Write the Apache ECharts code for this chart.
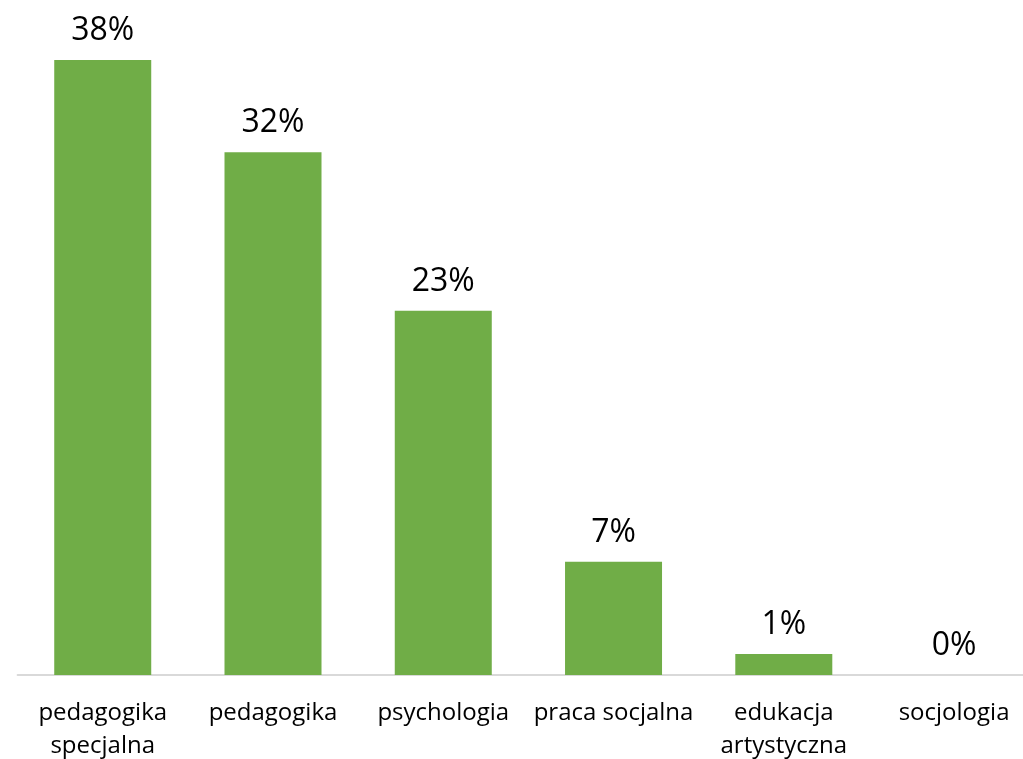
<!DOCTYPE html>
<html>
<head>
<meta charset="utf-8">
<script src="https://cdn.jsdelivr.net/npm/echarts@6/dist/echarts.min.js"></script>
<style>html,body{margin:0;padding:0;background:#fff;}#c{width:1023px;height:759px;}</style>
</head>
<body>
<div id="c"></div>
<script>
var categories = ['pedagogika\nspecjalna', 'pedagogika', 'psychologia', 'praca socjalna', 'edukacja\nartystyczna', 'socjologia'];
var values = [38.0, 32.3, 22.5, 7.0, 1.3, 0];
var valueLabels = ['38%', '32%', '23%', '7%', '1%', '0%'];

var chart = echarts.init(document.getElementById('c'), null, {renderer: 'canvas'});
chart.setOption({
  animation: false,
  backgroundColor: '#ffffff',
  grid: {left: 17.6, width: 1021.6, top: 60, bottom: 84, containLabel: false, outerBoundsMode: 'none'},
  xAxis: {
    type: 'category',
    data: categories,
    axisLine: {show: true, lineStyle: {color: '#D9D9D9', width: 2}},
    axisTick: {show: false},
    axisLabel: {
      interval: 0,
      color: '#000000',
      fontFamily: 'Open Sans',
      fontSize: 24,
      lineHeight: 33,
      margin: 22
    }
  },
  yAxis: {
    type: 'value',
    min: 0,
    max: 'dataMax',
    show: false,
    splitLine: {show: false}
  },
  series: [{
    type: 'bar',
    data: values,
    barWidth: 97,
    itemStyle: {color: '#70AD47'},
    label: {
      show: true,
      position: 'top',
      distance: 13,
      color: '#000000',
      fontFamily: 'Open Sans',
      fontSize: 32,
      formatter: function (p) { return valueLabels[p.dataIndex]; }
    }
  }]
});
</script>
</body>
</html>
